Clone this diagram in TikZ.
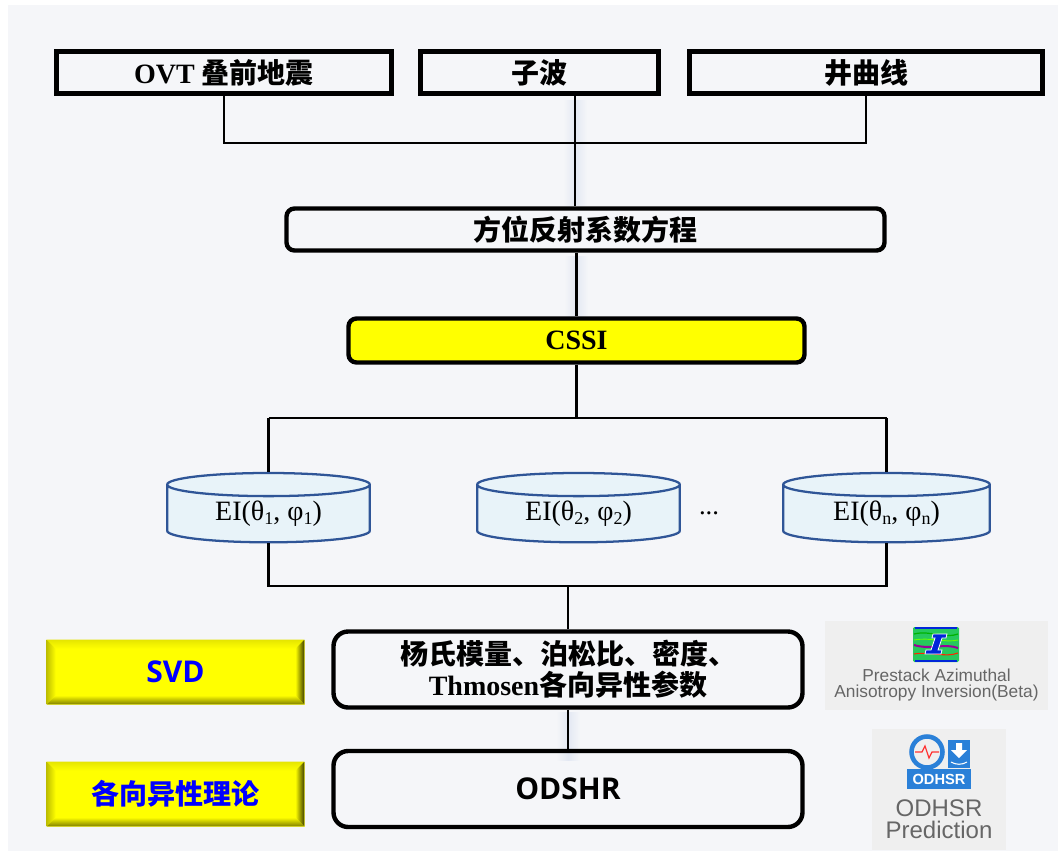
\documentclass[tikz,border=0pt]{standalone}
\usepackage{fontspec}
\setmainfont{Liberation Serif}
\setsansfont{Liberation Sans}
\newfontfamily\cjk{Noto Sans CJK SC}
\newfontfamily\latinsans{Open Sans}
\usetikzlibrary{shapes.geometric}
\definecolor{pagebg}{HTML}{F5F6F9}
\definecolor{tilebg}{HTML}{EFEFEF}
\definecolor{diskblue}{HTML}{2F5597}
\definecolor{diskfill}{HTML}{E8F3F9}
\definecolor{glowblue}{HTML}{E3E8F3}
\definecolor{iconblue}{HTML}{2A80D8}
\definecolor{icongray}{HTML}{666666}
\definecolor{Ryellow}{RGB}{255,255,0}
\definecolor{Rblue}{RGB}{0,0,255}
\tikzset{
  wd/.style={minimum width=#1*.75pt},
  ht/.style={minimum height=#1*.75pt},
  plainbox/.style={draw, line width=3.3pt, inner sep=0pt, align=center, font=\fontsize{21}{23.5}\selectfont\bfseries},
  cjkfont/.style={font=\fontsize{21}{23.5}\selectfont\cjk\bfseries},
  latinfont/.style={font=\fontsize{22.5}{23.5}\selectfont\latinsans\bfseries},
  roundbox/.style={plainbox, rounded corners=6pt},
  bigbox/.style={plainbox, rounded corners=11pt, wd=469, ht=76},
  yellowbox/.style={fill=Ryellow, draw=Ryellow!70!pagebg, line width=.5pt, wd=257, ht=64},
  bluetext/.style={inner sep=0pt, text=Rblue, cjkfont},
  link/.style={line width=2pt},
  disk/.style={cylinder, draw=diskblue, line width=1.7pt, shape border rotate=90, aspect=.217, cylinder uses custom fill,
    cylinder body fill=diskfill, cylinder end fill=diskfill, inner sep=0pt, minimum height=52pt, font=\fontsize{21}{23}\selectfont},
  tile/.style={fill=tilebg, inner sep=0pt},
  icontext/.style={inner sep=0pt, text=icongray, align=center, font=\sffamily}
}
\newcommand{\disksub}[1]{\raisebox{-.32ex}{\fontsize{13.5}{14}\selectfont #1}}
\newcommand{\disklabel}[1]{\raisebox{-5pt}{EI(θ\disksub{#1}, φ\disksub{#1})}}
\newcommand{\drawbevel}[1]{
\path (#1.north west) ++(9, 9) coordinate (#1a) (#1.north east) ++(-9, 9) coordinate (#1b)
  (#1.south east) ++(-9, -9) coordinate (#1c) (#1.south west) ++(9, -9) coordinate (#1d);
\shade[top color=Ryellow!90!black, bottom color=Ryellow] (#1.north west) -- (#1.north east) -- (#1b) -- (#1a) -- cycle;
\shade[left color=Ryellow!75!black, right color=Ryellow] (#1.north west) -- (#1a) -- (#1d) -- (#1.south west) -- cycle;
\shade[left color=Ryellow, right color=Ryellow!25!black] (#1.north east) -- (#1b) -- (#1c) -- (#1.south east) -- cycle;
\shade[top color=Ryellow, bottom color=Ryellow!50!black] (#1.south west) -- (#1d) -- (#1c) -- (#1.south east) -- cycle;
}
\newcommand{\drawglow}[3]{
\shade[left color=pagebg, right color=pagebg, middle color=glowblue] (#1 - 12, #2) rectangle (#1 + 12, #3);
}
\begin{document}
\begin{tikzpicture}[x=.75pt, y=-.75pt]
\useasboundingbox (0, 0) rectangle (1058, 851);
\fill[pagebg] (8, 5) rectangle (1058, 851);

\drawglow{575}{100}{205}
\drawglow{576}{256}{316}
\drawglow{568}{712}{760}

\node[plainbox, wd=335, ht=42] (ovt) at (224, 72.5) {OVT {\cjk 叠前地震}};
\node[plainbox, wd=238, ht=42, cjkfont] (wavelet) at (539.5, 72.5) {子波};
\node[plainbox, wd=353, ht=42, cjkfont] (welllog) at (866, 72.5) {井曲线};
\node[roundbox, wd=598, ht=42, cjkfont] (equation) at (585.5, 229.5) {方位反射系数方程};
\node[roundbox, wd=456, ht=44, fill=Ryellow, font=\fontsize{21}{23.5}\selectfont\bfseries] (cssi) at (576.5, 340.5) {CSSI};

\node[disk, minimum width=152pt] (diska) at (268.5, 514) {\disklabel{1}};
\node[disk, minimum width=152pt] (diskb) at (578.5, 514) {\disklabel{2}};
\node[disk, minimum width=155pt] (diskc) at (886.5, 514) {\disklabel{n}};
\node[inner sep=0pt, font=\fontsize{20}{22}\selectfont] (dots) at (709, 513) {...};

\node[bigbox, font=\fontsize{21}{23.5}\selectfont\bfseries] (params) at (568, 669.5) {{\cjk 杨氏模量、泊松比、密度、}\\Thmosen{\cjk 各向异性参数}};
\node[bigbox, latinfont] (odshr) at (568, 789) {ODSHR};

\node[yellowbox] (svd) at (175.5, 672) {};
\node[yellowbox] (theory) at (175.5, 794) {};
\drawbevel{svd}
\drawbevel{theory}
\node[bluetext, latinfont] (svdtext) at (svd) {SVD};
\node[bluetext] (theorytext) at (theory) {各向异性理论};

\coordinate (topjoin) at (575, 143);
\coordinate (treetop) at (576.5, 418);
\coordinate (treebot) at (568, 586);

\draw[link] (ovt.south) |- (welllog.south |- topjoin) -- (welllog.south);
\draw[link] (topjoin |- wavelet.south) -- (topjoin |- equation.north);
\draw[link] (cssi.center |- equation.south) -- (cssi.north);
\draw[link] (cssi.south) -- (treetop);
\draw[link] (diska.north |- treetop) -- (diskc.north |- treetop);
\draw[link] (diska.north |- treetop) -- (diska.north);
\draw[link] (diskc.north |- treetop) -- (diskc.north);
\draw[link] (diska.south) |- (diskc.south |- treebot) -- (diskc.south);
\draw[link] (treebot) -- (params.north);
\draw[link] (params.south) -- (odshr.north);

\node[tile, minimum width=167.25pt, minimum height=66.75pt] (azitile) at (936.5, 665.5) {};
\node[fill=teal!50!green!85!white, minimum width=34.5pt, minimum height=26.25pt, inner sep=0pt, rounded corners=1pt] (aziicon) at (936, 644.5) {};
\draw[green!70!black, line width=.9pt] (914, 634) .. controls (930, 630) and (945, 639) .. (958, 634);
\draw[green!60!yellow, line width=.7pt] (914, 640) .. controls (930, 637) and (945, 643) .. (958, 640);
\draw[violet!80!magenta, line width=1.5pt] (914, 645) .. controls (930, 650) and (945, 643) .. (958, 648);
\draw[red!70!orange, line width=.8pt] (914, 654) .. controls (930, 651) and (945, 658) .. (958, 653);
\draw[blue!70!teal, line width=1.2pt] (915, 628) -- (957, 628) (915, 661) -- (957, 661);
\draw[white, line width=.6pt, fill=blue!70!teal] (933, 634) -- (947, 634) -- (946, 638) -- (942, 638) -- (938, 650) -- (942, 650) -- (941, 654) -- (925, 654) -- (926, 650) -- (931, 650) -- (935, 638) -- (932, 638) -- cycle;
\node[icontext, font=\sffamily\fontsize{13}{11.7}\selectfont] (azilabel) at (936.5, 685) {Prestack Azimuthal\\Anisotropy Inversion(Beta)};

\node[tile, minimum width=100.5pt, minimum height=90.75pt] (odhtile) at (939, 789.5) {};
\draw[iconblue, line width=3.4pt] (927, 752) circle (15.5);
\fill[iconblue] (918, 765) -- (936, 765) -- (927, 773) -- cycle;
\draw[red!80!white, line width=.9pt] (915, 752) -- (922, 752) -- (925, 746) -- (929, 758) -- (932, 752) -- (939, 752);
\node[fill=iconblue, minimum width=16.5pt, minimum height=21pt, inner sep=0pt] (odhbox) at (959, 754) {};
\fill[white] (956, 743) rectangle (962, 750) (951, 750) -- (967, 750) -- (959, 758) -- cycle;
\draw[white, line width=.8pt] (951, 762) .. controls (956, 765) and (962, 765) .. (967, 762);
\node[fill=iconblue, minimum width=48pt, minimum height=15pt, inner sep=0pt, text=white, font=\sffamily\bfseries\fontsize{11}{11}\selectfont] (odhbanner) at (939, 779) {ODHSR};
\node[icontext, font=\sffamily\fontsize{18}{16.5}\selectfont] (odhlabel) at (939, 819) {ODHSR\\Prediction};
\end{tikzpicture}
\end{document}
